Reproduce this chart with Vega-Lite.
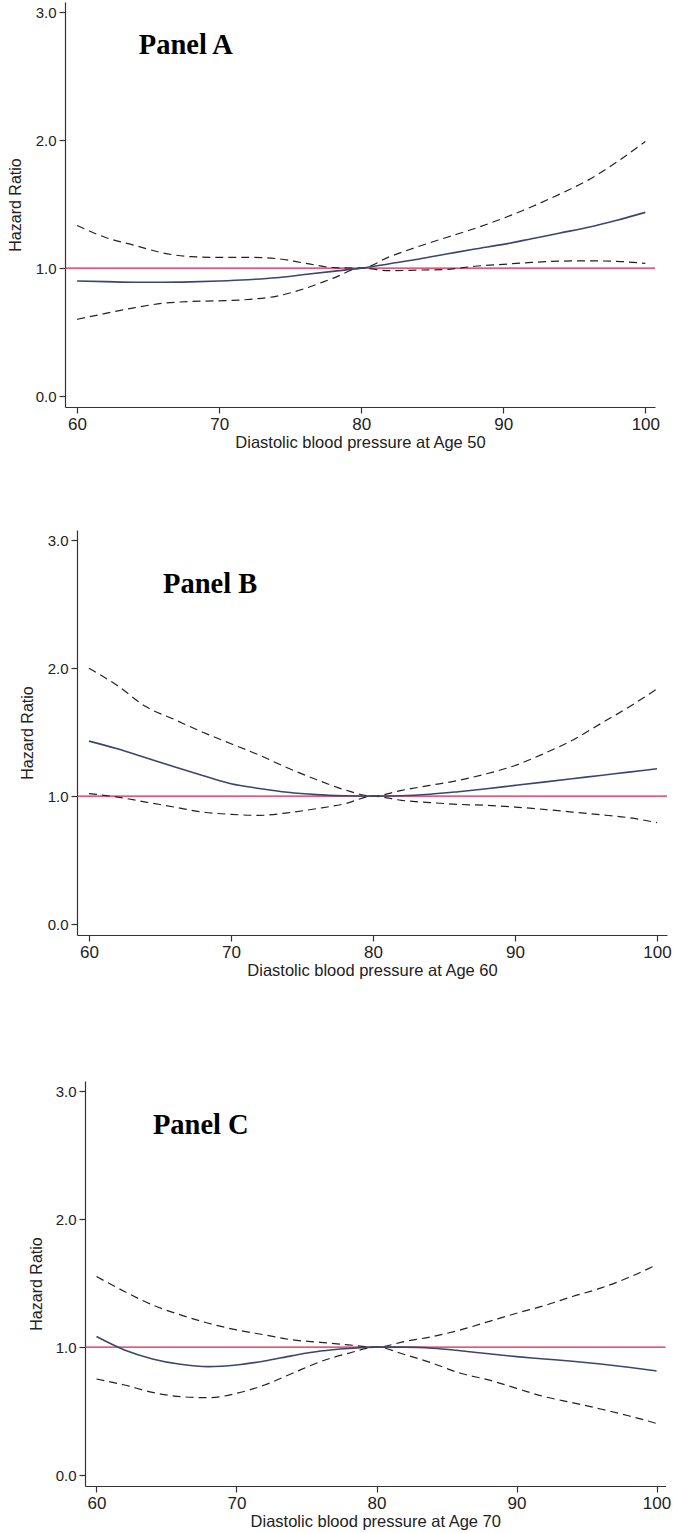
{
  "$schema": "https://vega.github.io/schema/vega-lite/v6.json",
  "padding": {"left": 0, "top": 2, "right": 0, "bottom": 0},
  "background": "white",
  "spacing": 79,
  "bounds": "full",
  "config": {
    "view": {"stroke": null},
    "axis": {"grid": false, "domainColor": "#333333", "tickColor": "#333333", "labelColor": "#222222", "titleColor": "#222222", "labelFont": "Liberation Sans", "titleFont": "Liberation Sans", "labelFlush": false, "domainWidth": 1.2, "tickWidth": 1.2, "titleFontWeight": "normal"},
    "axisX": {"labelFontSize": 17, "titleFontSize": 16.5, "tickSize": 6, "labelPadding": 3, "titlePadding": 2},
    "axisY": {"labelFontSize": 15, "titleFontSize": 16, "tickSize": 6, "labelPadding": 3, "titlePadding": 12}
  },
  "vconcat": [
    {
      "hconcat": [
        {"width": 64.5, "height": 1, "data": {"values": []}, "mark": "point"},
        {
          "width": 590, "height": 405,
          "layer": [
            {
              "data": {"values": [{"ref": 1}]},
              "mark": {"type": "rule", "color": "#dc1f4f", "strokeWidth": 1.3},
              "encoding": {"y": {"field": "ref", "type": "quantitative", "title": "Hazard Ratio", "scale": {"domain": [-0.085, 3.08], "nice": false, "zero": false}, "axis": {"values": [0, 1, 2, 3], "format": ".1f"}}}
            },
            {
              "data": {"name": "A"},
              "mark": {"type": "line", "color": "#222222", "strokeWidth": 1.2, "strokeDash": [8, 5], "interpolate": "monotone"},
              "encoding": {"x": {"field": "dbp", "type": "quantitative", "title": "Diastolic blood pressure at Age 50", "scale": {"domain": [59.15, 100.68], "nice": false, "zero": false}, "axis": {"values": [60, 70, 80, 90, 100]}}, "y": {"field": "hi", "type": "quantitative", "title": "Hazard Ratio"}}
            },
            {
              "data": {"name": "A"},
              "mark": {"type": "line", "color": "#222222", "strokeWidth": 1.2, "strokeDash": [8, 5], "interpolate": "monotone"},
              "encoding": {"x": {"field": "dbp", "type": "quantitative", "title": "Diastolic blood pressure at Age 50"}, "y": {"field": "lo", "type": "quantitative", "title": "Hazard Ratio"}}
            },
            {
              "data": {"name": "A"},
              "mark": {"type": "line", "color": "#3a4670", "strokeWidth": 1.6, "interpolate": "monotone"},
              "encoding": {"x": {"field": "dbp", "type": "quantitative", "title": "Diastolic blood pressure at Age 50"}, "y": {"field": "est", "type": "quantitative", "title": "Hazard Ratio"}}
            },
            {
              "data": {"values": [{"label": "Panel A"}]},
              "mark": {"type": "text", "font": "Liberation Serif", "fontWeight": "bold", "fontSize": 28.5, "color": "#000000", "align": "left", "baseline": "alphabetic"},
              "encoding": {"x": {"datum": 64.34, "type": "quantitative"}, "y": {"datum": 2.675, "type": "quantitative"}, "text": {"field": "label"}}
            }
          ]
        }
      ],
      "spacing": 0,
      "bounds": "flush"
    },
    {
      "spacing": 102,
      "bounds": "full",
      "vconcat": [
        {
          "hconcat": [
            {"width": 77, "height": 1, "data": {"values": []}, "mark": "point"},
            {
              "width": 590, "height": 405,
              "layer": [
                {
                  "data": {"values": [{"ref": 1}]},
                  "mark": {"type": "rule", "color": "#dc1f4f", "strokeWidth": 1.3},
                  "encoding": {"y": {"field": "ref", "type": "quantitative", "title": "Hazard Ratio", "scale": {"domain": [-0.085, 3.08], "nice": false, "zero": false}, "axis": {"values": [0, 1, 2, 3], "format": ".1f"}}}
                },
                {
                  "data": {"name": "B"},
                  "mark": {"type": "line", "color": "#222222", "strokeWidth": 1.2, "strokeDash": [8, 5], "interpolate": "monotone"},
                  "encoding": {"x": {"field": "dbp", "type": "quantitative", "title": "Diastolic blood pressure at Age 60", "scale": {"domain": [59.155, 100.7], "nice": false, "zero": false}, "axis": {"values": [60, 70, 80, 90, 100]}}, "y": {"field": "hi", "type": "quantitative", "title": "Hazard Ratio"}}
                },
                {
                  "data": {"name": "B"},
                  "mark": {"type": "line", "color": "#222222", "strokeWidth": 1.2, "strokeDash": [8, 5], "interpolate": "monotone"},
                  "encoding": {"x": {"field": "dbp", "type": "quantitative", "title": "Diastolic blood pressure at Age 60"}, "y": {"field": "lo", "type": "quantitative", "title": "Hazard Ratio"}}
                },
                {
                  "data": {"name": "B"},
                  "mark": {"type": "line", "color": "#3a4670", "strokeWidth": 1.6, "interpolate": "monotone"},
                  "encoding": {"x": {"field": "dbp", "type": "quantitative", "title": "Diastolic blood pressure at Age 60"}, "y": {"field": "est", "type": "quantitative", "title": "Hazard Ratio"}}
                },
                {
                  "data": {"values": [{"label": "Panel B"}]},
                  "mark": {"type": "text", "font": "Liberation Serif", "fontWeight": "bold", "fontSize": 28.5, "color": "#000000", "align": "left", "baseline": "alphabetic"},
                  "encoding": {"x": {"datum": 65.21, "type": "quantitative"}, "y": {"datum": 2.587, "type": "quantitative"}, "text": {"field": "label"}}
                }
              ]
            }
          ],
          "spacing": 0,
          "bounds": "flush"
        },
        {
          "hconcat": [
            {"width": 84.5, "height": 1, "data": {"values": []}, "mark": "point"},
            {
              "width": 580.5, "height": 405,
              "layer": [
                {
                  "data": {"values": [{"ref": 1}]},
                  "mark": {"type": "rule", "color": "#dc1f4f", "strokeWidth": 1.3},
                  "encoding": {"y": {"field": "ref", "type": "quantitative", "title": "Hazard Ratio", "scale": {"domain": [-0.085, 3.08], "nice": false, "zero": false}, "axis": {"values": [0, 1, 2, 3], "format": ".1f", "titlePadding": 11}}}
                },
                {
                  "data": {"name": "C"},
                  "mark": {"type": "line", "color": "#222222", "strokeWidth": 1.2, "strokeDash": [8, 5], "interpolate": "monotone"},
                  "encoding": {"x": {"field": "dbp", "type": "quantitative", "title": "Diastolic blood pressure at Age 70", "scale": {"domain": [59.18, 100.64], "nice": false, "zero": false}, "axis": {"values": [60, 70, 80, 90, 100]}}, "y": {"field": "hi", "type": "quantitative", "title": "Hazard Ratio"}}
                },
                {
                  "data": {"name": "C"},
                  "mark": {"type": "line", "color": "#222222", "strokeWidth": 1.2, "strokeDash": [8, 5], "interpolate": "monotone"},
                  "encoding": {"x": {"field": "dbp", "type": "quantitative", "title": "Diastolic blood pressure at Age 70"}, "y": {"field": "lo", "type": "quantitative", "title": "Hazard Ratio"}}
                },
                {
                  "data": {"name": "C"},
                  "mark": {"type": "line", "color": "#3a4670", "strokeWidth": 1.6, "interpolate": "monotone"},
                  "encoding": {"x": {"field": "dbp", "type": "quantitative", "title": "Diastolic blood pressure at Age 70"}, "y": {"field": "est", "type": "quantitative", "title": "Hazard Ratio"}}
                },
                {
                  "data": {"values": [{"label": "Panel C"}]},
                  "mark": {"type": "text", "font": "Liberation Serif", "fontWeight": "bold", "fontSize": 28.5, "color": "#000000", "align": "left", "baseline": "alphabetic"},
                  "encoding": {"x": {"datum": 64.03, "type": "quantitative"}, "y": {"datum": 2.662, "type": "quantitative"}, "text": {"field": "label"}}
                }
              ]
            }
          ],
          "spacing": 0,
          "bounds": "flush"
        }
      ]
    }
  ],
  "datasets": {
    "A": [
      {"dbp": 60, "est": 0.900, "lo": 0.600, "hi": 1.334},
      {"dbp": 62, "est": 0.895, "lo": 0.646, "hi": 1.240},
      {"dbp": 64, "est": 0.890, "lo": 0.690, "hi": 1.180},
      {"dbp": 66, "est": 0.890, "lo": 0.725, "hi": 1.120},
      {"dbp": 68, "est": 0.893, "lo": 0.740, "hi": 1.090},
      {"dbp": 70, "est": 0.900, "lo": 0.745, "hi": 1.084},
      {"dbp": 72, "est": 0.910, "lo": 0.755, "hi": 1.085},
      {"dbp": 74, "est": 0.925, "lo": 0.780, "hi": 1.075},
      {"dbp": 76, "est": 0.950, "lo": 0.840, "hi": 1.040},
      {"dbp": 78, "est": 0.975, "lo": 0.920, "hi": 1.005},
      {"dbp": 80, "est": 1.000, "lo": 1.000, "hi": 1.000},
      {"dbp": 82, "est": 1.035, "lo": 0.980, "hi": 1.090},
      {"dbp": 84, "est": 1.070, "lo": 0.985, "hi": 1.168},
      {"dbp": 86, "est": 1.110, "lo": 0.990, "hi": 1.240},
      {"dbp": 88, "est": 1.150, "lo": 1.015, "hi": 1.310},
      {"dbp": 90, "est": 1.186, "lo": 1.030, "hi": 1.390},
      {"dbp": 92, "est": 1.230, "lo": 1.045, "hi": 1.480},
      {"dbp": 94, "est": 1.275, "lo": 1.055, "hi": 1.580},
      {"dbp": 96, "est": 1.320, "lo": 1.057, "hi": 1.690},
      {"dbp": 98, "est": 1.375, "lo": 1.053, "hi": 1.830},
      {"dbp": 100, "est": 1.436, "lo": 1.037, "hi": 1.990}
    ],
    "B": [
      {"dbp": 60, "est": 1.430, "lo": 1.020, "hi": 2.000},
      {"dbp": 62, "est": 1.370, "lo": 0.993, "hi": 1.864},
      {"dbp": 64, "est": 1.300, "lo": 0.954, "hi": 1.700},
      {"dbp": 66, "est": 1.230, "lo": 0.915, "hi": 1.600},
      {"dbp": 68, "est": 1.162, "lo": 0.876, "hi": 1.500},
      {"dbp": 70, "est": 1.097, "lo": 0.858, "hi": 1.410},
      {"dbp": 72, "est": 1.060, "lo": 0.850, "hi": 1.320},
      {"dbp": 74, "est": 1.030, "lo": 0.870, "hi": 1.220},
      {"dbp": 76, "est": 1.012, "lo": 0.902, "hi": 1.130},
      {"dbp": 78, "est": 1.003, "lo": 0.940, "hi": 1.050},
      {"dbp": 80, "est": 1.000, "lo": 1.000, "hi": 1.000},
      {"dbp": 82, "est": 1.003, "lo": 0.967, "hi": 1.045},
      {"dbp": 84, "est": 1.015, "lo": 0.950, "hi": 1.084},
      {"dbp": 86, "est": 1.035, "lo": 0.936, "hi": 1.123},
      {"dbp": 88, "est": 1.058, "lo": 0.928, "hi": 1.175},
      {"dbp": 90, "est": 1.084, "lo": 0.915, "hi": 1.240},
      {"dbp": 92, "est": 1.110, "lo": 0.897, "hi": 1.331},
      {"dbp": 94, "est": 1.136, "lo": 0.876, "hi": 1.435},
      {"dbp": 96, "est": 1.162, "lo": 0.855, "hi": 1.565},
      {"dbp": 98, "est": 1.188, "lo": 0.832, "hi": 1.695},
      {"dbp": 100, "est": 1.214, "lo": 0.793, "hi": 1.838}
    ],
    "C": [
      {"dbp": 60, "est": 1.083, "lo": 0.751, "hi": 1.552},
      {"dbp": 62, "est": 0.978, "lo": 0.704, "hi": 1.435},
      {"dbp": 64, "est": 0.908, "lo": 0.647, "hi": 1.330},
      {"dbp": 66, "est": 0.866, "lo": 0.613, "hi": 1.252},
      {"dbp": 68, "est": 0.848, "lo": 0.605, "hi": 1.187},
      {"dbp": 70, "est": 0.861, "lo": 0.639, "hi": 1.135},
      {"dbp": 72, "est": 0.892, "lo": 0.704, "hi": 1.096},
      {"dbp": 74, "est": 0.934, "lo": 0.796, "hi": 1.057},
      {"dbp": 76, "est": 0.970, "lo": 0.887, "hi": 1.038},
      {"dbp": 78, "est": 0.990, "lo": 0.952, "hi": 1.018},
      {"dbp": 80, "est": 1.000, "lo": 1.000, "hi": 1.000},
      {"dbp": 82, "est": 1.000, "lo": 0.943, "hi": 1.044},
      {"dbp": 84, "est": 0.992, "lo": 0.874, "hi": 1.083},
      {"dbp": 86, "est": 0.972, "lo": 0.796, "hi": 1.135},
      {"dbp": 88, "est": 0.948, "lo": 0.744, "hi": 1.200},
      {"dbp": 90, "est": 0.926, "lo": 0.678, "hi": 1.265},
      {"dbp": 92, "est": 0.908, "lo": 0.613, "hi": 1.325},
      {"dbp": 94, "est": 0.890, "lo": 0.566, "hi": 1.396},
      {"dbp": 96, "est": 0.868, "lo": 0.517, "hi": 1.461},
      {"dbp": 98, "est": 0.843, "lo": 0.464, "hi": 1.544},
      {"dbp": 100, "est": 0.814, "lo": 0.404, "hi": 1.644}
    ]
  }
}
